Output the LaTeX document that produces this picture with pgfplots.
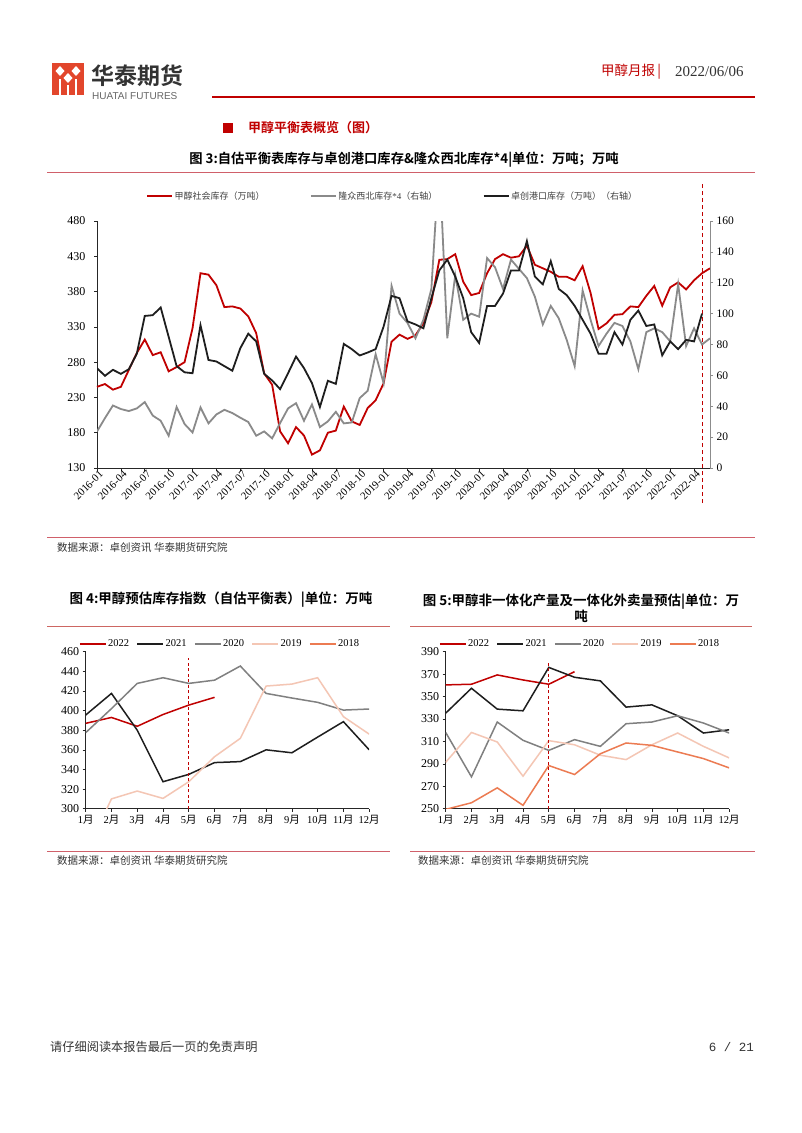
\documentclass[border=0pt]{standalone}
\usepackage{fontspec}
\setmainfont{Liberation Serif}
\newfontfamily\cjk{Noto Sans CJK SC}
\newfontfamily\cjkb{Noto Sans CJK SC Bold}
\newfontfamily\lsans{Liberation Sans}
\newfontfamily\lmono{Liberation Mono}
\usepackage{pgfplots}
\usepackage{pgfplotstable}
\pgfplotsset{compat=1.18}
\pgfplotsset{/pgf/number format/assume math mode=true}

\definecolor{hred}{HTML}{C00000}
\definecolor{hblack}{HTML}{1E1E1E}
\definecolor{hgray}{HTML}{8A8A8A}
\definecolor{c2020}{HTML}{808080}
\definecolor{c2019}{HTML}{F4C6B4}
\definecolor{c2018}{HTML}{EC7B52}
\definecolor{rule}{HTML}{D0606A}
\definecolor{logored}{HTML}{E2462C}
\definecolor{txt}{HTML}{333333}

% month index from 2016-01 = 0
\pgfplotstableread{
i red gray black
0 245 23.7 64.7
1 249 32.3 59.7
2 241 40.5 63.6
3 245 38.2 61
4 269 36.9 64
5 293 38.6 74
6 312 42.7 98.5
7 290 34 99
8 294 30.6 104
9 267 20.9 85
10 273 39.5 66
11 280 28.5 62
12 328 23 61.4
13 406 39.2 92.5
14 404 28.9 70
15 389 34.7 69
16 358 37.7 66
17 359 35.6 63
18 356 32.6 77.6
19 345 29.8 87
20 321 20.9 82
21 264 23.7 61
22 248 19.2 56.7
23 182 29.1 51.1
24 165 38.6 61.4
25 188 42 72.2
26 176 30.6 64.7
27 149 41.2 55
28 155 26.5 39.5
29 180 30.2 56.5
30 183 36.4 54.5
31 217 28.9 80.4
32 196 29.5 77
33 191 45.3 72.9
34 215 50 74.8
35 226 73.7 77
36 250 55 91.6
37 309 118 111.5
38 319 100 110
39 313 94 95
40 318 84 93
41 335 96 90.5
42 365 116 110
43 425 200 128
44 426 84 135
45 433 125 124
46 394 96 110
47 375 100 88
48 378 98 81
49 406 136 105
50 426 130 105
51 433 116 113
52 428 135 128
53 430 129 128
54 445 123 147
55 418 111 124
56 413 93 119
57 408 105 134
58 401 97 116
59 401 83 112
60 396 66 105
61 416 115 96
62 378 96 87
63 327 79 74
64 335 87 74
65 347 94 88
66 348 92 80
67 359 82 96
68 358 64 102
69 374 88 92
70 388 90.5 93
71 360 88 73
72 386 82 82
73 393 119 77
74 383 79 83
75 396 90.5 82
76 406 80 100
77 413 84 nan
}\stock

\pgfplotstableread{
m y22 y21 y20 y19
1 387 395.5 377.5 255
2 393 417.5 402 310
3 384 380 427.7 318
4 396 327.5 433.5 310.5
5 405.6 335 427.7 327.5
6 413.5 347 431 353
7 nan 348 445.4 371.7
8 nan 360 417.5 425
9 nan 357 412.8 427
10 nan 373 408.4 433.5
11 nan 388.7 400.5 393.8
12 nan 360 401.6 376
}\idx

\pgfplotstableread{
m y22 y21 y20 y19 y18
1 360.4 335.2 318 291.4 249.4
2 361 357.4 278.4 318 255.3
3 369.3 338.8 327.3 309.5 268.6
4 364.8 337.3 311 279 253
5 361 376 302 310.7 288.5
6 372.2 367.2 311.6 307 280.5
7 nan 364 305.6 297.7 299
8 nan 340.6 325.8 293.8 308.6
9 nan 342.6 327.3 307 306.5
10 nan 332.9 332.9 317.5 300.6
11 nan 317.5 326.4 305.6 294.7
12 nan 320.4 317.5 295.3 286.4
}\prod

\newcommand{\yue}[1]{#1{\cjk 月}}

\pgfplotsset{
  small/.style={
    scale only axis, anchor=south west,
    width=283.5pt, height=157pt,
    xmin=1, xmax=12, xtick={1,...,12},
    xticklabels={\yue{1},\yue{2},\yue{3},\yue{4},\yue{5},\yue{6},\yue{7},\yue{8},\yue{9},\yue{10},\yue{11},\yue{12}},
    axis x line*=bottom, axis y line*=left,
    tick align=outside, major tick length=3pt,
    axis line style={line width=0.8pt, black!85},
    tick style={line width=0.6pt, black!85},
    y tick label style={font=\fontsize{12}{14}\selectfont},
    x tick label style={font=\fontsize{10.5}{12}\selectfont},
    legend columns=5,
    legend image code/.code={\draw[##1, line width=1.5pt] (0pt,0pt) -- (26pt,0pt);},
    legend style={draw=none, fill=none, inner sep=0pt,
      font=\fontsize{10.5}{12}\selectfont,
      nodes={inner sep=1.5pt},
      /tikz/every even column/.append style={column sep=6pt}},
  },
}

\begin{document}
\begin{tikzpicture}[x=1pt,y=1pt]
\useasboundingbox (0,0) rectangle (802,-1133);
\fill[white] (0,0) rectangle (802,-1133);

% logo
\fill[logored] (52,-63) rectangle (84,-95);
\fill[white] (60,-66) -- (64.5,-71) -- (60,-76) -- (55.5,-71) -- cycle;
\fill[white] (76,-66) -- (80.5,-71) -- (76,-76) -- (71.5,-71) -- cycle;
\fill[white] (68,-73) -- (72.5,-78) -- (68,-83) -- (63.5,-78) -- cycle;
\fill[white] (59,-79) rectangle (61,-95);
\fill[white] (67,-85) rectangle (69,-95);
\fill[white] (75,-79) rectangle (77,-95);
\node[anchor=west, inner sep=0pt, text=txt, font=\cjkb\fontsize{23}{25}\selectfont] at (91,-76) {华泰期货};
\node[anchor=west, inner sep=0pt, text=black!60, font=\lsans\fontsize{10}{12}\selectfont] at (92,-96) {HUATAI FUTURES};
\draw[hred, line width=1.4pt] (212,-97) -- (755,-97);
\node[anchor=west, inner sep=0pt, text=hred, font=\cjk\fontsize{13.5}{15}\selectfont] at (601,-72) {甲醇月报\,|};
\node[anchor=west, inner sep=0pt, text=txt, font=\fontsize{15}{17}\selectfont] at (675,-72) {2022/06/06};

% section heading
\fill[hred] (223,-123) rectangle (233,-133);
\node[anchor=west, inner sep=0pt, text=hred, font=\cjkb\fontsize{13}{15}\selectfont] at (248,-128) {甲醇平衡表概览（图）};

% main chart title
\node[inner sep=0pt, text=black, font=\cjkb\fontsize{13.3}{15}\selectfont] at (404,-160) {图 3:自估平衡表库存与卓创港口库存\&隆众西北库存*4|单位：万吨；万吨};
\draw[rule, line width=0.8pt] (47,-172) -- (755,-172);

% main chart, left axis
\begin{axis}[
  at={(97pt,-468pt)}, anchor=south west, scale only axis,
  width=613pt, height=247pt,
  xmin=0, xmax=77, ymin=130, ymax=480,
  axis x line*=bottom, axis y line*=left,
  ytick={130,180,...,480},
  xtick={0,3,...,75},
  xticklabels={2016-01,2016-04,2016-07,2016-10,2017-01,2017-04,2017-07,2017-10,2018-01,2018-04,2018-07,2018-10,2019-01,2019-04,2019-07,2019-10,2020-01,2020-04,2020-07,2020-10,2021-01,2021-04,2021-07,2021-10,2022-01,2022-04},
  x tick label style={rotate=45, anchor=east, inner sep=1pt, xshift=3pt, yshift=-4pt, font=\fontsize{10.8}{12}\selectfont},
  y tick label style={font=\fontsize{12}{14}\selectfont, xshift=-5pt},
  tick align=outside, major tick length=3pt,
  axis line style={line width=0.8pt, black!85},
  tick style={line width=0.6pt, black!85},
  clip=false,
]
\addplot[hred, line width=1.8pt] table[x=i, y=red] {\stock};
\addplot[hred, line width=0.9pt, dash pattern=on 4pt off 3pt, forget plot] coordinates {(76,80.4) (76,533.8)};
\end{axis}

% main chart, right axis
\begin{axis}[
  at={(97pt,-468pt)}, anchor=south west, scale only axis,
  width=613pt, height=247pt,
  xmin=0, xmax=77, ymin=0, ymax=160,
  axis x line=none, axis y line*=right,
  ytick={0,20,...,160},
  y tick label style={font=\fontsize{11.5}{13}\selectfont},
  tick align=outside, major tick length=3pt,
  axis line style={line width=0.8pt, black!45},
  tick style={line width=0.6pt, black!45},
  legend columns=-1,
  legend image code/.code={\draw[#1] (0pt,0pt) -- (25pt,0pt);},
  legend style={at={(0.08,1.101)}, anchor=west, draw=none, fill=none, inner sep=0pt,
    font=\fontsize{9}{11}\selectfont, text=black!75,
    nodes={inner sep=1.5pt},
    /tikz/every even column/.append style={column sep=44pt}},
]
\addlegendimage{hred, line width=1.8pt}
\addlegendentry{{\cjk 甲醇社会库存（万吨）}}
\addplot[hgray, line width=1.8pt] table[x=i, y=gray] {\stock};
\addlegendentry{{\cjk 隆众西北库存}*4{\cjk （右轴）}}
\addplot[hblack, line width=1.8pt] table[x=i, y=black] {\stock};
\addlegendentry{{\cjk 卓创港口库存（万吨）（右轴）}}
\end{axis}

% source
\draw[rule, line width=0.8pt] (47,-537) -- (755,-537);
\node[anchor=west, inner sep=0pt, text=txt, font=\cjk\fontsize{10.5}{12}\selectfont] at (57,-548) {数据来源：卓创资讯 华泰期货研究院};

% chart 4 title
\node[inner sep=0pt, text=black, font=\cjkb\fontsize{13.5}{15}\selectfont] at (221,-600) {图 4:甲醇预估库存指数（自估平衡表）|单位：万吨};
\draw[rule!80!brown, line width=0.8pt] (47,-626) -- (390,-626);

\begin{axis}[small, at={(85.7pt,-808.7pt)},
  ymin=300, ymax=460, ytick={300,320,...,460},
  legend style={at={(-0.024,1.049)}, anchor=west}]
\addplot[hred, line width=1.5pt] table[x=m, y=y22] {\idx};
\addlegendentry{2022}
\addplot[hblack, line width=1.5pt] table[x=m, y=y21] {\idx};
\addlegendentry{2021}
\addplot[c2020, line width=1.5pt] table[x=m, y=y20] {\idx};
\addlegendentry{2020}
\addplot[c2019, line width=1.5pt] table[x=m, y=y19] {\idx};
\addlegendentry{2019}
\addlegendimage{c2018, line width=1.5pt}
\addlegendentry{2018}
\addplot[hred, line width=0.8pt, dash pattern=on 3pt off 2.5pt, forget plot] coordinates {(5,300) (5,454)};
\end{axis}
\draw[rule, line width=0.8pt] (47,-851) -- (390,-851);
\node[anchor=west, inner sep=0pt, text=txt, font=\cjk\fontsize{10.5}{12}\selectfont] at (57,-861) {数据来源：卓创资讯 华泰期货研究院};

% chart 5 title
\node[inner sep=0pt, align=center, text=black, font=\cjkb\fontsize{13.5}{16.5}\selectfont] at (581,-608) {图 5:甲醇非一体化产量及一体化外卖量预估|单位：万\\吨};
\draw[rule!80!brown, line width=0.8pt] (410,-626) -- (752,-626);

\begin{axis}[small, at={(445.7pt,-808.7pt)},
  ymin=250, ymax=390, ytick={250,270,...,390},
  legend style={at={(-0.024,1.049)}, anchor=west}]
\addplot[hred, line width=1.5pt] table[x=m, y=y22] {\prod};
\addlegendentry{2022}
\addplot[hblack, line width=1.5pt] table[x=m, y=y21] {\prod};
\addlegendentry{2021}
\addplot[c2020, line width=1.5pt] table[x=m, y=y20] {\prod};
\addlegendentry{2020}
\addplot[c2019, line width=1.5pt] table[x=m, y=y19] {\prod};
\addlegendentry{2019}
\addplot[c2018, line width=1.5pt] table[x=m, y=y18] {\prod};
\addlegendentry{2018}
\addplot[hred, line width=0.8pt, dash pattern=on 3pt off 2.5pt, forget plot] coordinates {(5,250) (5,381)};
\end{axis}
\draw[rule, line width=0.8pt] (410,-851) -- (755,-851);
\node[anchor=west, inner sep=0pt, text=txt, font=\cjk\fontsize{10.5}{12}\selectfont] at (418,-861) {数据来源：卓创资讯 华泰期货研究院};

% footer
\node[anchor=west, inner sep=0pt, text=txt, font=\cjk\fontsize{12.2}{14}\selectfont] at (50,-1047) {请仔细阅读本报告最后一页的免责声明};
\node[anchor=east, inner sep=0pt, text=txt, font=\lmono\fontsize{12.5}{14}\selectfont] at (754,-1047) {6 / 21};
\end{tikzpicture}
\end{document}
